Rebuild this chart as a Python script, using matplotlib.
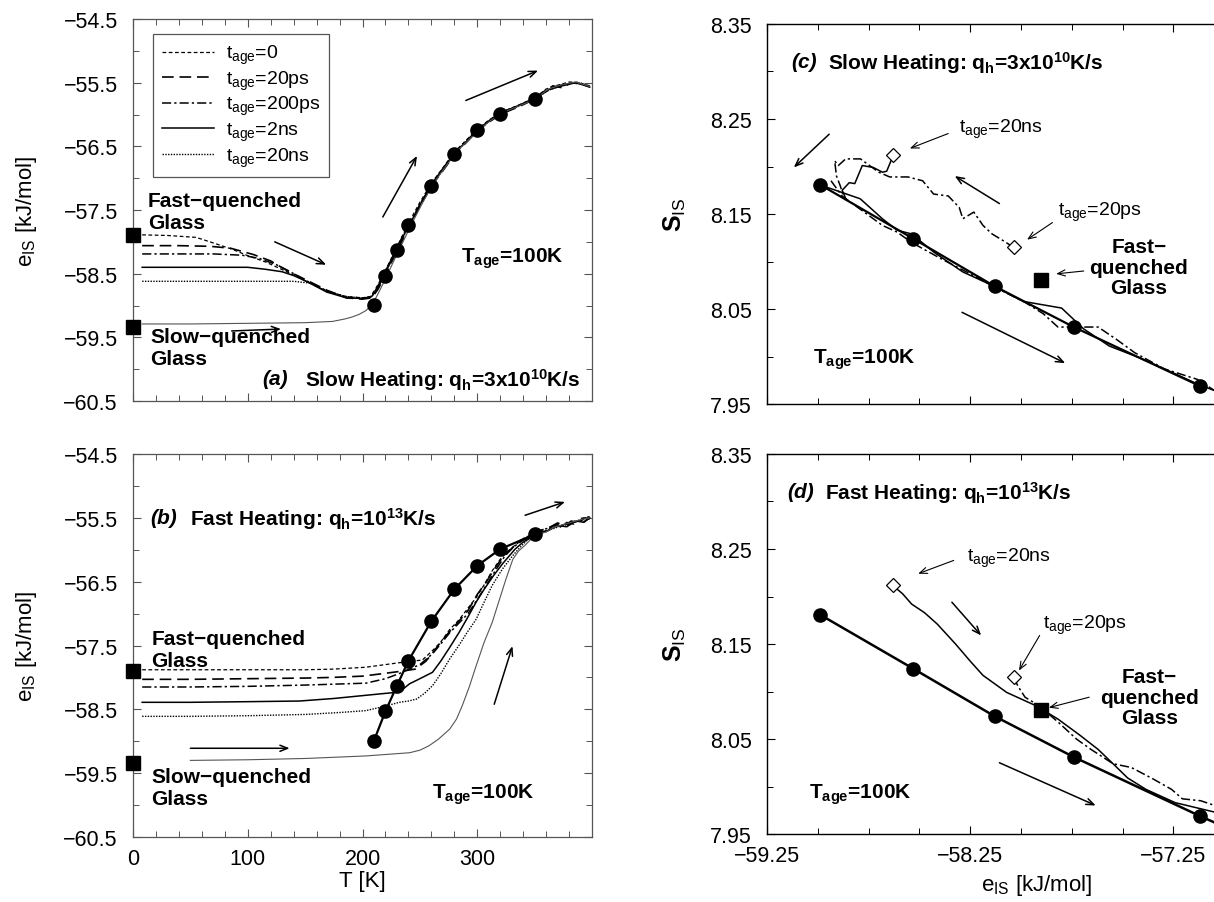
import matplotlib
matplotlib.use("Agg")
import matplotlib.pyplot as plt
from matplotlib.ticker import MultipleLocator, FixedLocator

plt.rcParams['font.family'] = ['Liberation Sans', 'DejaVu Sans']
plt.rcParams['mathtext.fontset'] = 'custom'
plt.rcParams['mathtext.rm'] = 'Liberation Sans'
plt.rcParams['mathtext.it'] = 'Liberation Sans:italic'
plt.rcParams['mathtext.bf'] = 'Liberation Sans:bold'

# ---------------- data ----------------
# equilibrium points (filled circles)
T_eq = [210, 220, 230, 240, 260, 280, 300, 320, 350]
e_eq = [-58.99, -58.53, -58.13, -57.74, -57.12, -56.62, -56.25, -55.99, -55.76]
s_eq = [8.181, 8.124, 8.074, 8.031, 7.969]   # for the first five T_eq

fast_glass_e = -57.90
slow_glass_e = -59.34
fast_glass_s = 8.081

# panel (a): slow heating
a_t0_T = [8, 30, 55, 67, 87, 99, 116, 134, 151, 169, 186, 200, 207, 212, 218, 224, 230, 236, 240, 250, 260, 270, 280, 290, 300, 310, 320, 335, 350, 360, 370, 380, 390, 398]
a_t0_e = [-57.89, -57.90, -57.93, -58.00, -58.12, -58.21, -58.32, -58.47, -58.62, -58.78, -58.86, -58.88, -58.86, -58.72, -58.52, -58.30, -58.08, -57.86, -57.71, -57.38, -57.08, -56.84, -56.59, -56.41, -56.23, -56.09, -55.97, -55.86, -55.74, -55.60, -55.54, -55.49, -55.50, -55.57]
a_20ps_T = [8, 40, 67, 85, 105, 120, 134, 151, 169, 186, 200, 208, 213, 219, 225, 231, 237, 242, 251, 261, 271, 281, 291, 301, 311, 321, 336, 350, 358, 366, 374, 382, 390, 398]
a_20ps_e = [-58.06, -58.06, -58.07, -58.10, -58.20, -58.30, -58.45, -58.60, -58.76, -58.88, -58.90, -58.88, -58.76, -58.56, -58.33, -58.12, -57.90, -57.72, -57.40, -57.10, -56.86, -56.61, -56.43, -56.24, -56.11, -55.99, -55.88, -55.76, -55.64, -55.55, -55.58, -55.50, -55.52, -55.55]
a_200ps_T = [8, 40, 70, 95, 110, 125, 134, 151, 169, 186, 200, 207, 212, 218, 224, 230, 236, 241, 250, 260, 270, 280, 290, 300, 310, 320, 335, 350, 362, 374, 386, 398]
a_200ps_e = [-58.19, -58.19, -58.19, -58.21, -58.26, -58.36, -58.44, -58.61, -58.77, -58.87, -58.89, -58.87, -58.74, -58.54, -58.31, -58.10, -57.87, -57.72, -57.41, -57.11, -56.86, -56.62, -56.42, -56.25, -56.10, -55.98, -55.87, -55.75, -55.62, -55.53, -55.50, -55.56]
a_2ns_T = [8, 60, 100, 115, 130, 140, 151, 169, 186, 200, 208, 214, 220, 226, 232, 238, 243, 252, 262, 272, 282, 292, 302, 312, 322, 336, 350, 362, 374, 386, 398]
a_2ns_e = [-58.40, -58.40, -58.40, -58.43, -58.47, -58.53, -58.62, -58.79, -58.88, -58.89, -58.86, -58.70, -58.48, -58.26, -58.04, -57.82, -57.66, -57.36, -57.05, -56.80, -56.57, -56.40, -56.22, -56.08, -55.96, -55.86, -55.74, -55.61, -55.55, -55.50, -55.57]
a_20ns_T = [8, 60, 100, 140, 155, 169, 186, 200, 208, 213, 219, 225, 231, 237, 242, 251, 261, 271, 281, 291, 301, 311, 321, 336, 350, 362, 374, 386, 398]
a_20ns_e = [-58.62, -58.62, -58.62, -58.62, -58.65, -58.78, -58.86, -58.88, -58.86, -58.73, -58.53, -58.30, -58.09, -57.87, -57.71, -57.39, -57.09, -56.85, -56.60, -56.42, -56.24, -56.10, -55.99, -55.87, -55.76, -55.62, -55.54, -55.49, -55.56]
a_slow_T = [8, 50, 100, 150, 174, 185, 191, 197, 203, 209, 214, 220, 226, 232, 238, 244, 252, 262, 272, 282, 292, 302, 312, 322, 336, 350, 362, 374, 386, 398]
a_slow_e = [-59.29, -59.29, -59.28, -59.27, -59.25, -59.21, -59.18, -59.14, -59.08, -58.97, -58.80, -58.58, -58.35, -58.12, -57.90, -57.68, -57.40, -57.08, -56.83, -56.58, -56.41, -56.23, -56.09, -55.97, -55.87, -55.76, -55.60, -55.53, -55.49, -55.56]

# panel (b): fast heating
b_t0_T = [8, 50, 100, 150, 175, 203, 232, 245, 252, 261, 268, 276, 284, 290, 299, 306, 313, 320, 328, 335, 342, 348, 354, 360, 366, 372, 378, 384, 390, 398]
b_t0_e = [-57.88, -57.88, -57.88, -57.88, -57.87, -57.84, -57.77, -57.74, -57.73, -57.58, -57.45, -57.25, -57.10, -56.96, -56.75, -56.55, -56.33, -56.15, -56.00, -55.90, -55.80, -55.77, -55.70, -55.72, -55.62, -55.65, -55.57, -55.60, -55.51, -55.48]
b_20ps_T = [8, 50, 100, 150, 174, 200, 218, 235, 246, 255, 261, 268, 276, 284, 292, 300, 308, 315, 322, 330, 338, 345, 352, 358, 364, 370, 376, 382, 388, 394, 398]
b_20ps_e = [-58.03, -58.03, -58.02, -58.01, -58.00, -57.98, -57.94, -57.90, -57.87, -57.75, -57.62, -57.45, -57.28, -57.12, -56.95, -56.70, -56.50, -56.30, -56.12, -55.98, -55.85, -55.80, -55.72, -55.68, -55.64, -55.58, -55.62, -55.55, -55.58, -55.50, -55.52]
b_200ps_T = [8, 50, 100, 150, 203, 220, 232, 242, 250, 261, 268, 276, 284, 292, 300, 308, 316, 324, 332, 340, 348, 355, 362, 370, 378, 386, 393, 398]
b_200ps_e = [-58.15, -58.15, -58.14, -58.12, -58.09, -58.02, -57.94, -57.86, -57.80, -57.63, -57.48, -57.30, -57.15, -57.00, -56.78, -56.55, -56.32, -56.10, -55.95, -55.85, -55.80, -55.70, -55.66, -55.60, -55.62, -55.54, -55.56, -55.50]
b_2ns_T = [8, 50, 100, 145, 175, 203, 220, 232, 241, 250, 261, 268, 276, 284, 292, 299, 306, 314, 322, 333, 340, 348, 355, 362, 370, 378, 386, 393, 398]
b_2ns_e = [-58.39, -58.39, -58.38, -58.37, -58.33, -58.28, -58.25, -58.23, -58.10, -58.02, -57.92, -57.75, -57.53, -57.30, -57.05, -56.82, -56.62, -56.41, -56.22, -55.99, -55.88, -55.80, -55.72, -55.70, -55.62, -55.64, -55.55, -55.57, -55.50]
b_20ns_T = [8, 50, 100, 150, 180, 203, 220, 232, 240, 247, 254, 261, 268, 276, 284, 291, 299, 306, 313, 322, 331, 338, 345, 352, 360, 368, 376, 384, 392, 398]
b_20ns_e = [-58.61, -58.61, -58.60, -58.58, -58.55, -58.52, -58.45, -58.39, -58.37, -58.34, -58.25, -58.13, -57.95, -57.71, -57.50, -57.30, -57.09, -56.82, -56.56, -56.30, -56.09, -55.95, -55.82, -55.78, -55.70, -55.66, -55.60, -55.58, -55.52, -55.50]
b_slow_T = [50, 100, 150, 203, 241, 250, 258, 266, 276, 282, 287, 293, 299, 306, 313, 319, 325, 331, 336, 341, 346, 352, 360, 368, 376, 384, 392, 398]
b_slow_e = [-59.30, -59.29, -59.27, -59.23, -59.18, -59.14, -59.07, -58.97, -58.81, -58.65, -58.44, -58.15, -57.82, -57.45, -57.14, -56.80, -56.46, -56.15, -56.02, -55.94, -55.85, -55.77, -55.72, -55.64, -55.60, -55.56, -55.52, -55.50]

# panel (c): S_IS vs e_IS, slow heating
c_solid_e = [-58.953, -58.791, -58.682, -58.610, -58.538, -58.430, -58.286, -58.138, -57.989, -57.800, -57.691, -57.565, -57.421, -57.295, -57.120, -57.046]
c_solid_s = [8.178, 8.166, 8.145, 8.133, 8.129, 8.110, 8.089, 8.0745, 8.058, 8.051, 8.029, 8.011, 7.999, 7.987, 7.970, 7.964]
c_dash_e = [-58.935, -58.881, -58.791, -58.682, -58.610, -58.538, -58.394, -58.250, -58.138, -57.980, -57.890, -57.818, -57.620, -57.530, -57.440, -57.295, -57.133, -57.046]
c_dash_s = [8.185, 8.169, 8.155, 8.138, 8.131, 8.120, 8.103, 8.087, 8.074, 8.057, 8.045, 8.031, 8.031, 8.018, 8.004, 7.987, 7.976, 7.964]
c_20ps_e = [-58.034, -58.088, -58.142, -58.187, -58.232, -58.286, -58.304, -58.358, -58.430, -58.484, -58.556, -58.646, -58.700, -58.790, -58.863, -58.899, -58.917, -58.908, -58.890, -58.872]
c_20ps_s = [8.1146, 8.122, 8.129, 8.138, 8.152, 8.145, 8.157, 8.169, 8.171, 8.185, 8.189, 8.189, 8.194, 8.208, 8.208, 8.201, 8.206, 8.190, 8.180, 8.168]
c_20ns_e = [-58.628, -58.661, -58.682, -58.727, -58.781, -58.818, -58.845, -58.880, -58.860]
c_20ns_s = [8.212, 8.195, 8.194, 8.199, 8.201, 8.182, 8.183, 8.175, 8.165]

# panel (d): S_IS vs e_IS, fast heating
d_20ns_e = [-58.628, -58.583, -58.538, -58.475, -58.412, -58.322, -58.250, -58.187, -58.070, -57.926, -57.818, -57.710, -57.620, -57.547, -57.475, -57.385, -57.241, -57.046]
d_20ns_s = [8.211, 8.203, 8.192, 8.183, 8.171, 8.150, 8.132, 8.117, 8.099, 8.085, 8.071, 8.054, 8.039, 8.024, 8.009, 7.997, 7.983, 7.973]
d_20ps_e = [-58.034, -58.016, -57.980, -57.926, -57.890, -57.818, -57.727, -57.655, -57.547, -57.457, -57.350, -57.259, -57.205, -57.115, -57.046]
d_20ps_s = [8.115, 8.106, 8.094, 8.087, 8.081, 8.068, 8.050, 8.039, 8.024, 8.020, 8.008, 7.997, 7.987, 7.985, 7.980]
d_eq_tail_e = [-57.046]
d_eq_tail_s = [7.962]

diam_e = [-58.628, -58.034]   # t_age = 20ns, 20ps
diam_s = [8.212, 8.115]

legend_labels = [r"t$_{\rm age}$=0", r"t$_{\rm age}$=20ps", r"t$_{\rm age}$=200ps",
                 r"t$_{\rm age}$=2ns", r"t$_{\rm age}$=20ns"]

# ---------------- styles ----------------
ls_t0 = dict(color='black', lw=0.9, linestyle=(0, (3.0, 2.0)))
ls_20ps = dict(color='black', lw=1.2, linestyle=(0, (7.0, 3.5)))
ls_200ps = dict(color='black', lw=1.1, linestyle=(0, (6.0, 2.0, 1.5, 2.0)))
ls_2ns = dict(color='black', lw=1.1, linestyle='-')
ls_20ns = dict(color='black', lw=1.0, linestyle=(0, (1.0, 1.0)))
ls_slow = dict(color='#555555', lw=0.8, linestyle='-')

W, H = 1214, 903
fig = plt.figure(figsize=(W / 100, H / 100), dpi=100)


def px_axes(l, t, r, b):
    return fig.add_axes([l / W, 1 - b / H, (r - l) / W, (b - t) / H])


ax_a = px_axes(133, 20, 592, 402)
ax_b = px_axes(133, 455, 592, 838)
ax_c = px_axes(767, 25, 1216, 405)
ax_d = px_axes(767, 455, 1216, 835)

TICK_FS = 15.5
BOLD_FS = 15


def style_T_axes(ax, show_x):
    ax.set_xlim(0, 400)
    ax.set_ylim(-60.5, -54.5)
    ax.xaxis.set_major_locator(FixedLocator([0, 100, 200, 300]))
    ax.xaxis.set_minor_locator(MultipleLocator(20))
    ax.yaxis.set_major_locator(MultipleLocator(1.0, offset=0.5))
    ax.yaxis.set_minor_locator(MultipleLocator(0.5))
    ax.tick_params(which='both', direction='in', top=True, right=True, color='#555555')
    ax.tick_params(which='major', length=6, width=0.8, labelsize=TICK_FS)
    ax.tick_params(which='minor', length=4, width=0.7)
    ax.tick_params(axis='y', pad=11)
    ax.tick_params(axis='x', pad=8)
    for sp in ax.spines.values():
        sp.set_color('#555555')
        sp.set_linewidth(0.9)
    if not show_x:
        ax.tick_params(axis='x', labelbottom=False)
    ax.set_ylabel(r"e$_{\rm IS}$ [kJ/mol]", fontsize=16)
    ax.yaxis.set_label_coords(-0.205, 0.5)


def style_S_axes(ax, show_x):
    ax.set_xlim(-59.25, -57.04)
    ax.set_ylim(7.95, 8.35)
    ax.xaxis.set_major_locator(FixedLocator([-59.25, -58.25, -57.25]))
    ax.xaxis.set_minor_locator(FixedLocator([-59.0, -58.75, -58.5, -58.0, -57.75, -57.5, -57.0]))
    ax.yaxis.set_major_locator(FixedLocator([7.95, 8.05, 8.15, 8.25, 8.35]))
    ax.yaxis.set_minor_locator(FixedLocator([8.0, 8.1, 8.2, 8.3]))
    ax.xaxis.set_major_formatter(plt.FuncFormatter(lambda v, p: ("%.2f" % v).replace('-', '\u2212')))
    ax.yaxis.set_major_formatter(plt.FuncFormatter(lambda v, p: "%.2f" % v))
    ax.tick_params(which='both', direction='in', top=True, right=False, color='black')
    ax.tick_params(which='major', length=6, width=0.8, labelsize=TICK_FS)
    ax.tick_params(which='minor', length=4, width=0.7)
    ax.tick_params(axis='y', pad=11)
    ax.tick_params(axis='x', pad=8)
    ax.spines['right'].set_visible(False)
    for sp in ax.spines.values():
        sp.set_linewidth(1.0)
    if not show_x:
        ax.tick_params(axis='x', labelbottom=False)
    ax.set_ylabel(r"$\mathbf{S}_{\rm IS}$", fontsize=18)
    ax.yaxis.set_label_coords(-0.175, 0.5)


def arrow(ax, tail, head, lw=1.1):
    ax.annotate('', xy=head, xytext=tail,
                arrowprops=dict(arrowstyle='->,head_length=0.55,head_width=0.22', lw=lw,
                                color='black', shrinkA=0, shrinkB=0))


def heading(ax, x1, x2, y, lab, rest):
    ax.text(x1, y, lab, fontsize=BOLD_FS, fontweight='bold', style='italic', va='center')
    ax.text(x2, y, rest, fontsize=BOLD_FS, fontweight='bold', va='center')


tage_bold = r"T$_{\mathbf{age}}$=100K"

# ---------- panel (a) ----------
ax = ax_a
style_T_axes(ax, False)
h0, = ax.plot(a_t0_T, a_t0_e, **ls_t0)
h1, = ax.plot(a_20ps_T, a_20ps_e, **ls_20ps)
h2, = ax.plot(a_200ps_T, a_200ps_e, **ls_200ps)
h3, = ax.plot(a_2ns_T, a_2ns_e, **ls_2ns)
h4, = ax.plot(a_20ns_T, a_20ns_e, **ls_20ns)
ax.plot(a_slow_T, a_slow_e, **ls_slow)
ax.plot(T_eq, e_eq, 'o', color='black', ms=9.5, zorder=5)
ax.plot([0, 0], [fast_glass_e, slow_glass_e], 's', color='black', ms=9.5, clip_on=False, zorder=6)
leg = ax.legend([h0, h1, h2, h3, h4], legend_labels, loc='upper left',
                bbox_to_anchor=(0.022, 0.985), fontsize=14, handlelength=2.7,
                handletextpad=0.6, labelspacing=0.12, borderpad=0.45,
                fancybox=False, framealpha=1, edgecolor='#555555')
leg.get_frame().set_linewidth(0.9)
ax.text(13, -57.2, "Fast\u2212quenched\nGlass", fontsize=BOLD_FS, fontweight='bold', va='top', ha='left')
ax.text(15, -59.33, "Slow\u2212quenched\nGlass", fontsize=BOLD_FS, fontweight='bold', va='top', ha='left')
ax.text(286, -58.25, tage_bold, fontsize=BOLD_FS, fontweight='bold', va='center')
heading(ax, 113, 150, -60.15, "(a)", r"Slow Heating: q$_{\mathbf{h}}$=3x10$^{\mathbf{10}}$K/s")
arrow(ax, (123.5, -58.0), (168.4, -58.36))
arrow(ax, (86, -59.40), (129, -59.37))
arrow(ax, (217.7, -57.61), (247.5, -56.65))
arrow(ax, (290, -55.78), (353, -55.31))

# ---------- panel (b) ----------
ax = ax_b
style_T_axes(ax, True)
ax.plot(b_t0_T, b_t0_e, **ls_t0)
ax.plot(b_20ps_T, b_20ps_e, **ls_20ps)
ax.plot(b_200ps_T, b_200ps_e, **ls_200ps)
ax.plot(b_2ns_T, b_2ns_e, **ls_2ns)
ax.plot(b_20ns_T, b_20ns_e, **ls_20ns)
ax.plot(b_slow_T, b_slow_e, **ls_slow)
ax.plot(T_eq, e_eq, '-o', color='black', lw=1.6, ms=9.5, zorder=5)
ax.plot([0, 0], [fast_glass_e, slow_glass_e], 's', color='black', ms=9.5, clip_on=False, zorder=6)
ax.text(16, -57.24, "Fast\u2212quenched\nGlass", fontsize=BOLD_FS, fontweight='bold', va='top', ha='left')
ax.text(16, -59.40, "Slow\u2212quenched\nGlass", fontsize=BOLD_FS, fontweight='bold', va='top', ha='left')
ax.text(261, -59.83, tage_bold, fontsize=BOLD_FS, fontweight='bold', va='center')
heading(ax, 15, 50, -55.5, "(b)", r"Fast Heating: q$_{\mathbf{h}}$=10$^{\mathbf{13}}$K/s")
arrow(ax, (50, -59.11), (136.5, -59.11))
arrow(ax, (314.8, -58.42), (330.7, -57.51))
arrow(ax, (341.7, -55.46), (376.5, -55.25))
ax.set_xlabel("T [K]", fontsize=16)
ax.xaxis.set_label_coords(0.5, -0.085)

# ---------- panel (c) ----------
ax = ax_c
style_S_axes(ax, False)
ax.plot(e_eq[:5], s_eq, '-o', color='black', lw=1.6, ms=9.5, zorder=5)
ax.plot(c_solid_e, c_solid_s, **ls_2ns)
ax.plot(c_dash_e, c_dash_s, **ls_200ps)
ax.plot(c_20ps_e, c_20ps_s, **ls_200ps)
ax.plot(c_20ns_e, c_20ns_s, **ls_2ns)
ax.plot(diam_e, diam_s, 'D', mfc='white', mec='black', mew=0.9, ms=7.5, zorder=6)
ax.plot([fast_glass_e], [fast_glass_s], 's', color='black', ms=9.5, zorder=6)
heading(ax, -59.133, -58.95, 8.310, "(c)", r"Slow Heating: q$_{\mathbf{h}}$=3x10$^{\mathbf{10}}$K/s")
ax.text(-58.304, 8.240, r"t$_{\rm age}$=20ns", fontsize=14, va='center')
ax.text(-57.818, 8.153, r"t$_{\rm age}$=20ps", fontsize=14, va='center')
ax.text(-57.42, 8.094, "Fast\u2212\nquenched\nGlass", fontsize=BOLD_FS, fontweight='bold',
        va='center', ha='center', multialignment='center', linespacing=1.1)
ax.text(-59.025, 7.998, tage_bold, fontsize=BOLD_FS, fontweight='bold', va='center')
arrow(ax, (-58.358, 8.2347), (-58.547, 8.219), lw=0.8)
arrow(ax, (-57.845, 8.141), (-57.97, 8.123), lw=0.8)
arrow(ax, (-57.691, 8.090), (-57.827, 8.087), lw=0.8)
arrow(ax, (-58.944, 8.234), (-59.118, 8.199))
arrow(ax, (-58.106, 8.161), (-58.326, 8.190))
arrow(ax, (-58.29, 8.0465), (-57.782, 7.993))

# ---------- panel (d) ----------
ax = ax_d
style_S_axes(ax, True)
ax.plot(e_eq[:5] + d_eq_tail_e, s_eq + d_eq_tail_s, '-', color='black', lw=1.8, zorder=4)
ax.plot(e_eq[:5], s_eq, 'o', color='black', ms=9.5, zorder=5)
ax.plot(d_20ns_e, d_20ns_s, **ls_2ns)
ax.plot(d_20ps_e, d_20ps_s, **ls_200ps)
ax.plot(diam_e, diam_s, 'D', mfc='white', mec='black', mew=0.9, ms=7.5, zorder=6)
ax.plot([fast_glass_e], [fast_glass_s], 's', color='black', ms=9.5, zorder=6)
heading(ax, -59.151, -58.965, 8.310, "(d)", r"Fast Heating: q$_{\mathbf{h}}$=10$^{\mathbf{13}}$K/s")
ax.text(-58.268, 8.241, r"t$_{\rm age}$=20ns", fontsize=14, va='center')
ax.text(-57.89, 8.171, r"t$_{\rm age}$=20ps", fontsize=14, va='center')
ax.text(-57.367, 8.094, "Fast\u2212\nquenched\nGlass", fontsize=BOLD_FS, fontweight='bold',
        va='center', ha='center', multialignment='center', linespacing=1.1)
ax.text(-59.043, 7.992, tage_bold, fontsize=BOLD_FS, fontweight='bold', va='center')
arrow(ax, (-58.331, 8.238), (-58.506, 8.224), lw=0.8)
arrow(ax, (-57.908, 8.159), (-58.01, 8.122), lw=0.8)
arrow(ax, (-57.664, 8.094), (-57.863, 8.083), lw=0.8)
arrow(ax, (-58.34, 8.194), (-58.196, 8.159))
arrow(ax, (-58.106, 8.025), (-57.632, 7.980))
ax.set_xlabel(r"e$_{\rm IS}$ [kJ/mol]", fontsize=16)
ax.xaxis.set_label_coords(0.6, -0.1)

fig.savefig("out.png", dpi=100)
